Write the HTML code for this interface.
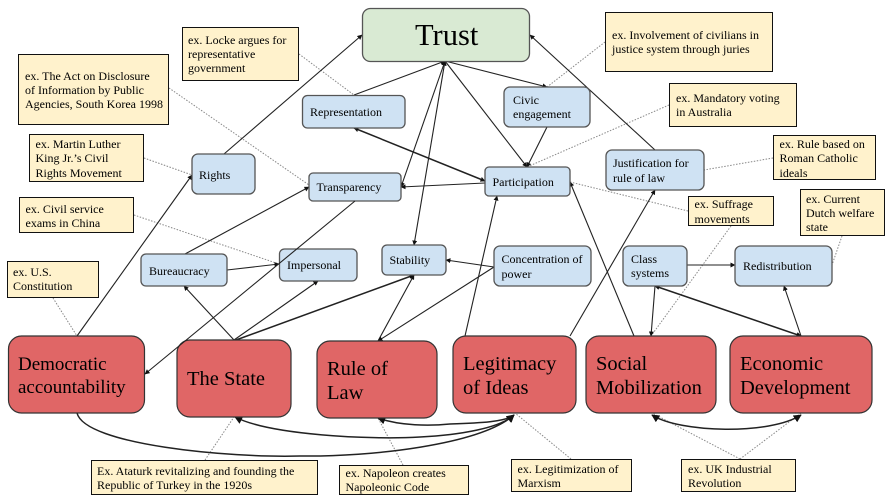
<!DOCTYPE html>
<html><head><meta charset="utf-8"><style>
html,body{margin:0;padding:0;background:#fff;width:891px;height:499px;overflow:hidden}
svg{display:block;filter:blur(0.3px)}
text{font-family:"Liberation Serif",serif;font-size:12px;fill:#000}
.n{fill:#fff2cc;stroke:#111;stroke-width:1}
.b{fill:#cfe2f3;stroke:#555;stroke-width:1.3}
.r{fill:#e06666;stroke:#333;stroke-width:1.2}
.l{stroke:#222;stroke-width:1.1;fill:none}
.t{stroke-width:1.5}
.d{stroke:#888;stroke-width:1;stroke-dasharray:1.5 1.5;fill:none}
.big{font-size:20.5px}
</style></head><body>
<svg width="891" height="499" viewBox="0 0 891 499" xmlns="http://www.w3.org/2000/svg">
<defs>
<marker id="a" viewBox="0 0 10 10" refX="9" refY="5" markerWidth="5" markerHeight="5" markerUnits="userSpaceOnUse" orient="auto-start-reverse"><path d="M0 0L10 5L0 10z" fill="#111"/></marker>
<marker id="c" viewBox="0 0 10 10" refX="9" refY="5" markerWidth="8" markerHeight="8" markerUnits="userSpaceOnUse" orient="auto-start-reverse"><path d="M0 0L10 5L0 10z" fill="#111"/></marker>
</defs>

<!-- dotted -->
<g class="d">
<path d="M299 54L354 95"/><path d="M169 88L309 185"/><path d="M144 158L192 175"/><path d="M134 215L279 264"/>
<path d="M53 298L77 336"/><path d="M605 42L547 87"/><path d="M669 105L527 167"/><path d="M773 158L704 170"/>
<path d="M688 211L570 182"/><path d="M731 226L651 336"/><path d="M842 236L832 265"/><path d="M205 460L234 417"/>
<path d="M403 465L378 418"/><path d="M571 459L515 413"/><path d="M740 459L652 413"/><path d="M740 459L801 413"/>
</g>

<!-- connectors -->
<g class="l">
<path d="M77 336L192 175" marker-end="url(#a)"/>
<path d="M224 154L362 35" marker-end="url(#a)"/>
<path d="M185 254L309 187" marker-end="url(#a)"/>
<path d="M227 270L279 264" marker-end="url(#a)"/>
<path d="M234 340L184 286" marker-end="url(#a)"/>
<path d="M234 340L318 281" marker-end="url(#a)"/>
<path class="t" d="M236 340L414 275" marker-end="url(#a)"/>
<path d="M378 341L414 275" marker-end="url(#a)"/>
<path d="M494 267L378 341" marker-end="url(#a)"/>
<path d="M494 267L446 260" marker-end="url(#a)"/>
<path d="M354 95L445 61" marker-end="url(#a)"/>
<path d="M401 187L445 61" marker-end="url(#a)" marker-start="url(#a)"/>
<path d="M414 245L445 61" marker-end="url(#a)" marker-start="url(#a)"/>
<path class="t" d="M485 181L354 128" marker-start="url(#a)" marker-end="url(#a)"/>
<path d="M485 183L401 187" marker-end="url(#a)"/>
<path d="M445 61L547 87" marker-end="url(#a)"/>
<path d="M445 61L527 167" marker-end="url(#a)"/>
<path d="M547 127L527 167" marker-end="url(#a)"/>
<path d="M465 336L497 196" marker-end="url(#a)"/>
<path d="M634 336L570 182" marker-end="url(#a)"/>
<path d="M570 336L655 190" marker-end="url(#a)"/>
<path d="M655 150L530 35" marker-end="url(#a)"/>
<path d="M655 286L651 336" marker-end="url(#a)"/>
<path class="t" d="M801 336L655 286" marker-end="url(#a)" marker-start="url(#a)"/>
<path d="M801 336L784 286" marker-end="url(#a)"/>
<path d="M687 265L735 265" marker-end="url(#a)"/>
<path class="t" d="M77 413C85 445 230 458 300 456C370 457 480 445 514 415" marker-end="url(#c)"/>
<path class="t" d="M235 417C270 435 370 440 420 437C460 435 500 428 514 415" marker-end="url(#c)" marker-start="url(#c)"/>
<path class="t" d="M378 418C400 426 430 426 450 424C480 423 505 422 514 415" marker-end="url(#c)" marker-start="url(#c)"/>
<path class="t" d="M652 415C680 433 770 435 801 415" marker-end="url(#c)" marker-start="url(#c)"/>
</g>

<!-- green -->
<rect x="362.5" y="8.5" width="167" height="53" rx="8" fill="#d9ead3" stroke="#555" stroke-width="1.3"/>
<text x="415" y="45" style="font-size:30.500px">Trust</text>

<!-- blue -->
<rect class="b" x="302.5" y="95.5" width="102.5" height="32.5" rx="5"/>
<rect class="b" x="192" y="154" width="63" height="40" rx="6"/>
<rect class="b" x="309" y="173" width="92" height="28" rx="4"/>
<rect class="b" x="504" y="87" width="86" height="40" rx="6"/>
<rect class="b" x="485" y="167" width="85" height="29" rx="4"/>
<rect class="b" x="606" y="150" width="98" height="40" rx="6"/>
<rect class="b" x="141" y="254" width="86" height="32" rx="5"/>
<rect class="b" x="279.500" y="249" width="77.500" height="32" rx="5"/>
<rect class="b" x="382" y="245" width="64" height="30" rx="5"/>
<rect class="b" x="494" y="246" width="97" height="40" rx="6"/>
<rect class="b" x="623" y="246" width="64" height="40" rx="6"/>
<rect class="b" x="735" y="246" width="97" height="40" rx="6"/>

<!-- red -->
<rect class="r" x="8.500" y="336" width="136" height="77" rx="13"/>
<rect class="r" x="177" y="340" width="114" height="77" rx="13"/>
<rect class="r" x="317" y="341" width="120" height="77" rx="13"/>
<rect class="r" x="453" y="336" width="123" height="77" rx="13"/>
<rect class="r" x="586" y="336" width="130" height="77" rx="13"/>
<rect class="r" x="730" y="336" width="142" height="77" rx="13"/>

<!-- line drawn above boxes -->
<path class="l" d="M355 201L145 374" marker-end="url(#a)"/>

<!-- notes -->
<rect class="n" x="182.500" y="27.500" width="116" height="53"/>
<rect class="n" x="18.500" y="54.500" width="150" height="70"/>
<rect class="n" x="29.500" y="134.500" width="114" height="47"/>
<rect class="n" x="19.500" y="197.500" width="114" height="35"/>
<rect class="n" x="7.500" y="261.500" width="91" height="36"/>
<rect class="n" x="605.500" y="12.500" width="167" height="59"/>
<rect class="n" x="669.500" y="83.500" width="127" height="43"/>
<rect class="n" x="773.500" y="135.500" width="102" height="44"/>
<rect class="n" x="688.500" y="196.500" width="85" height="29"/>
<rect class="n" x="800.500" y="189.500" width="84" height="46"/>
<rect class="n" x="91.500" y="460.500" width="226" height="34"/>
<rect class="n" x="339.500" y="465.500" width="129" height="29"/>
<rect class="n" x="511.500" y="459.500" width="120" height="32"/>
<rect class="n" x="681.500" y="459.500" width="114" height="32"/>

<!-- note text -->
<text x="188" y="44">ex. Locke argues for</text><text x="188" y="58">representative</text><text x="188" y="72">government</text>
<text x="25" y="80">ex. The Act on Disclosure</text><text x="25" y="94">of Information by Public</text><text x="25" y="108">Agencies, South Korea 1998</text>
<text x="35.500" y="148">ex. Martin Luther</text><text x="35.500" y="162">King Jr.’s Civil</text><text x="35.500" y="177">Rights Movement</text>
<text x="25.500" y="213">ex. Civil service</text><text x="25.500" y="227">exams in China</text>
<text x="13" y="276">ex. U.S.</text><text x="13" y="290">Constitution</text>
<text x="612" y="39">ex. Involvement of civilians in</text><text x="612" y="53">justice system through juries</text>
<text x="676" y="102">ex. Mandatory voting</text><text x="676" y="116">in Australia</text>
<text x="779.500" y="148">ex. Rule based on</text><text x="779.500" y="162">Roman Catholic</text><text x="779.500" y="177">ideals</text>
<text x="694.500" y="208">ex. Suffrage</text><text x="694.500" y="223">movements</text>
<text x="806" y="203">ex. Current</text><text x="806" y="217">Dutch welfare</text><text x="806" y="231">state</text>
<text x="97" y="475">Ex. Ataturk revitalizing and founding the</text><text x="97" y="489">Republic of Turkey in the 1920s</text>
<text x="345.500" y="477">ex. Napoleon creates</text><text x="345.500" y="491">Napoleonic Code</text>
<text x="517.500" y="473">ex. Legitimization of</text><text x="517.500" y="487">Marxism</text>
<text x="688" y="473">ex. UK Industrial</text><text x="688" y="487">Revolution</text>

<!-- blue text -->
<text x="310" y="116">Representation</text>
<text x="199" y="179">Rights</text>
<text x="316.500" y="191">Transparency</text>
<text x="513" y="104">Civic</text><text x="513" y="118">engagement</text>
<text x="492.500" y="186">Participation</text>
<text x="613" y="167">Justification for</text><text x="613" y="182">rule of law</text>
<text x="149" y="275">Bureaucracy</text>
<text x="287" y="269">Impersonal</text>
<text x="389.500" y="264">Stability</text>
<text x="501.500" y="263">Concentration of</text><text x="501.500" y="278">power</text>
<text x="631" y="263">Class</text><text x="631" y="277">systems</text>
<text x="743" y="270">Redistribution</text>

<!-- red text -->
<text class="big" x="18" y="370" style="font-size:19px">Democratic</text><text class="big" x="18" y="393" style="font-size:19px">accountability</text>
<text class="big" x="187" y="385">The State</text>
<text class="big" x="327" y="375">Rule of</text><text class="big" x="327" y="399">Law</text>
<text class="big" x="463" y="370">Legitimacy</text><text class="big" x="463" y="394">of Ideas</text>
<text class="big" x="596" y="370">Social</text><text class="big" x="596" y="394">Mobilization</text>
<text class="big" x="740" y="370">Economic</text><text class="big" x="740" y="394">Development</text>
</svg>
</body></html>
